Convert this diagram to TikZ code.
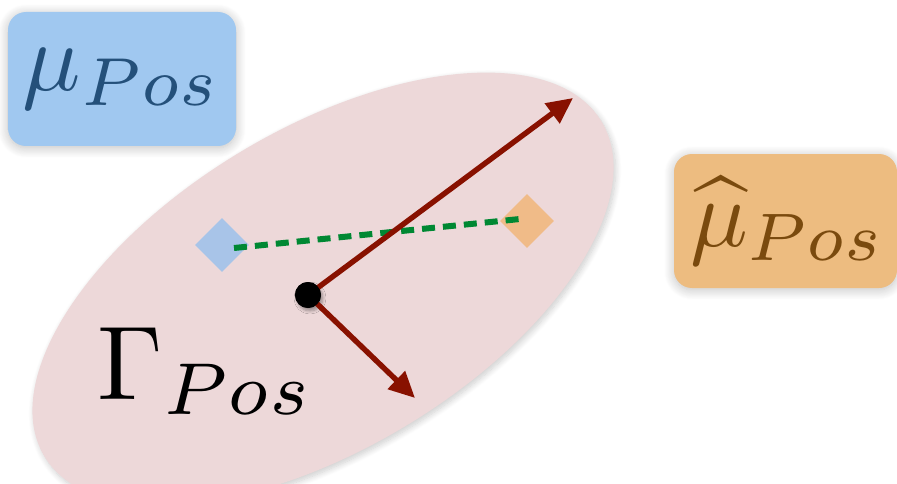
\documentclass[tikz,border=0pt]{standalone}
\usetikzlibrary{shapes.geometric,arrows.meta,shadows.blur}
\definecolor{ellfill}{RGB}{237,216,217}
\definecolor{bluebox}{RGB}{160,200,240}
\definecolor{bluetext}{RGB}{36,80,122}
\definecolor{orangebox}{RGB}{237,188,128}
\definecolor{browntext}{RGB}{122,74,14}
\definecolor{bluedia}{RGB}{168,196,232}
\definecolor{orangedia}{RGB}{240,187,136}
\definecolor{greenline}{RGB}{0,136,51}
\definecolor{darkred}{RGB}{136,17,0}
\tikzset{
  labelbox/.style={rounded corners=18pt, blur shadow={shadow blur steps=12, shadow xshift=0pt, shadow yshift=-2pt, shadow blur radius=10pt, shadow opacity=25}},
  dia/.style={diamond, minimum width=54pt, minimum height=54pt, inner sep=0pt},
  vec/.style={draw=darkred, line width=5.4pt, -{Triangle[length=26pt,width=24pt]}},
  bigmath/.style={inner sep=0pt, scale=10}
}
\begin{document}
\begin{tikzpicture}[x=1pt,y=1pt]
\useasboundingbox (0,0) rectangle (897,483);
% ellipse
\node[ellipse, fill=ellfill, minimum width=650pt, minimum height=320pt, rotate=31,
      blur shadow={shadow blur steps=10, shadow xshift=2pt, shadow yshift=-3pt, shadow blur radius=6pt, shadow opacity=20}] (ell) at (323,194) {};
% boxes
\filldraw[labelbox, fill=bluebox, draw=none] (8,337) rectangle (236,471);
\node[bigmath, text=bluetext, scale=0.97] (mu) at (122,404) {$\mu_{Pos}$};
\filldraw[labelbox, fill=orangebox, draw=none] (674,195) rectangle (897,329);
\node[bigmath, text=browntext, scale=0.96] (muhat) at (788,262) {$\widehat{\mu}_{Pos}$};
% diamonds
\node[dia, fill=bluedia] (bd) at (222,238) {};
\node[dia, fill=orangedia] (od) at (527,262) {};
\coordinate (bdc) at (234,235);
\coordinate (odc) at (520,264);
\draw[greenline, line width=6pt, dash pattern=on 13pt off 8pt] (bdc) -- (odc);
% center dot and vectors
\node[circle, fill=black, minimum size=26pt, inner sep=0pt, blur shadow={shadow blur steps=6, shadow xshift=2pt, shadow yshift=-3pt, shadow blur radius=3pt, shadow opacity=35}] (c) at (308,188) {};
\coordinate (t1) at (573,385);
\coordinate (t2) at (415,85);
\draw[vec] (c.center) -- (t1);
\draw[vec] (c.center) -- (t2);
\node[circle, fill=black, minimum size=26pt, inner sep=0pt] at (c) {};
% Gamma label
\node[bigmath, scale=1.05] (gam) at (206,112) {$\Gamma_{Pos}$};
\end{tikzpicture}
\end{document}
